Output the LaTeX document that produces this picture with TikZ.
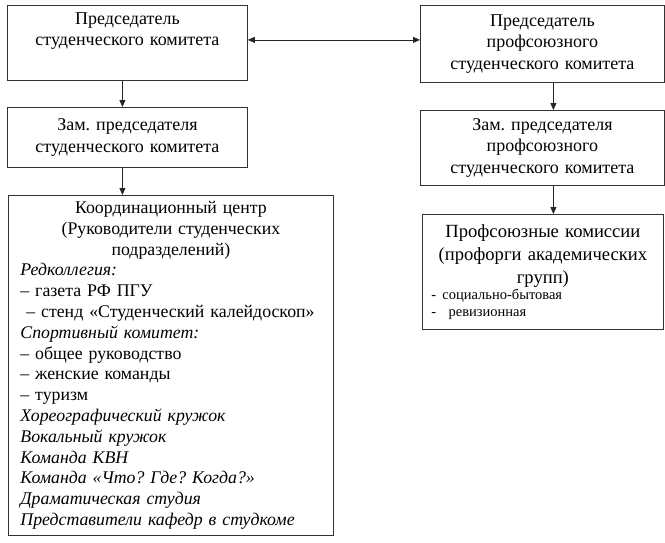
\documentclass[tikz,border=0pt]{standalone}
\usepackage{fontspec}
\setmainfont{Liberation Serif}
\usetikzlibrary{arrows.meta}
\frenchspacing
\begin{document}
\begin{tikzpicture}[x=1pt, y=-1pt, font=\fontsize{18}{21.5}\selectfont]
    % Styles
    \tikzset{box/.style={draw=black!80, line width=0.8pt, rectangle, anchor=north west, inner xsep=0pt, inner ysep=0pt, align=center},
             link/.style={-{Triangle[length=7pt, width=6pt]}, line width=0.8pt, black!85}}
    \useasboundingbox (0,0) rectangle (665,542);

    % Nodes
    \node[box, text width=240pt, minimum height=75pt] (chair) at (7,5) {Председатель\\студенческого комитета\\\strut};
    \node[box, text width=244pt, minimum height=77pt] (ufchair) at (420,5) {Председатель\\профсоюзного\\студенческого комитета};
    \node[box, text width=240pt, minimum height=60pt] (deputy) at (7,107) {Зам. председателя\\студенческого комитета};
    \node[box, text width=244pt, minimum height=75pt] (ufdeputy) at (420,110) {Зам. председателя\\профсоюзного\\студенческого комитета};
    \node[box, text width=223pt, inner xsep=9pt, minimum height=115pt, align=left, font=\fontsize{18.6}{23}\selectfont] (commis) at (422,214)
        {{\centering Профсоюзные комиссии\\(профорги академических\\групп)\par}
         {\fontsize{14.5}{16.5}\selectfont - социально-бытовая\\-\ \ ревизионная\par}};
    \node[box, text width=301pt, inner xsep=12pt, minimum height=340pt, align=left, font=\fontsize{17.8}{20.8}\selectfont] (center) at (8,195)
        {{\centering Координационный центр\\(Руководители студенческих\\подразделений)\par}
         \textit{Редколлегия:}\\
         -- газета РФ ПГУ\\
         \ -- стенд «Студенческий калейдоскоп»\\
         \textit{Спортивный комитет:}\\
         -- общее руководство\\
         -- женские команды\\
         -- туризм\\
         \textit{Хореографический кружок}\\
         \textit{Вокальный кружок}\\
         \textit{Команда КВН}\\
         \textit{Команда «Что? Где? Когда?»}\\
         \textit{Драматическая студия}\\
         \textit{Представители кафедр в студкоме}};

    % Flow arrows
    \draw[link, {Triangle[length=7pt, width=6pt]}-{Triangle[length=7pt, width=6pt]}] ([yshift=3pt]chair.east) -- ([yshift=3pt]chair.east -| ufchair.west);
    \draw[link] ([xshift=-5pt]chair.south) -- ([xshift=-5pt]chair.south |- deputy.north);
    \draw[link] ([xshift=-5pt]deputy.south) -- ([xshift=-5pt]deputy.south |- center.north);
    \draw[link] ([xshift=11pt]ufchair.south) -- ([xshift=11pt]ufchair.south |- ufdeputy.north);
    \draw[link] ([xshift=11pt]ufdeputy.south) -- ([xshift=11pt]ufdeputy.south |- commis.north);
\end{tikzpicture}
\end{document}
